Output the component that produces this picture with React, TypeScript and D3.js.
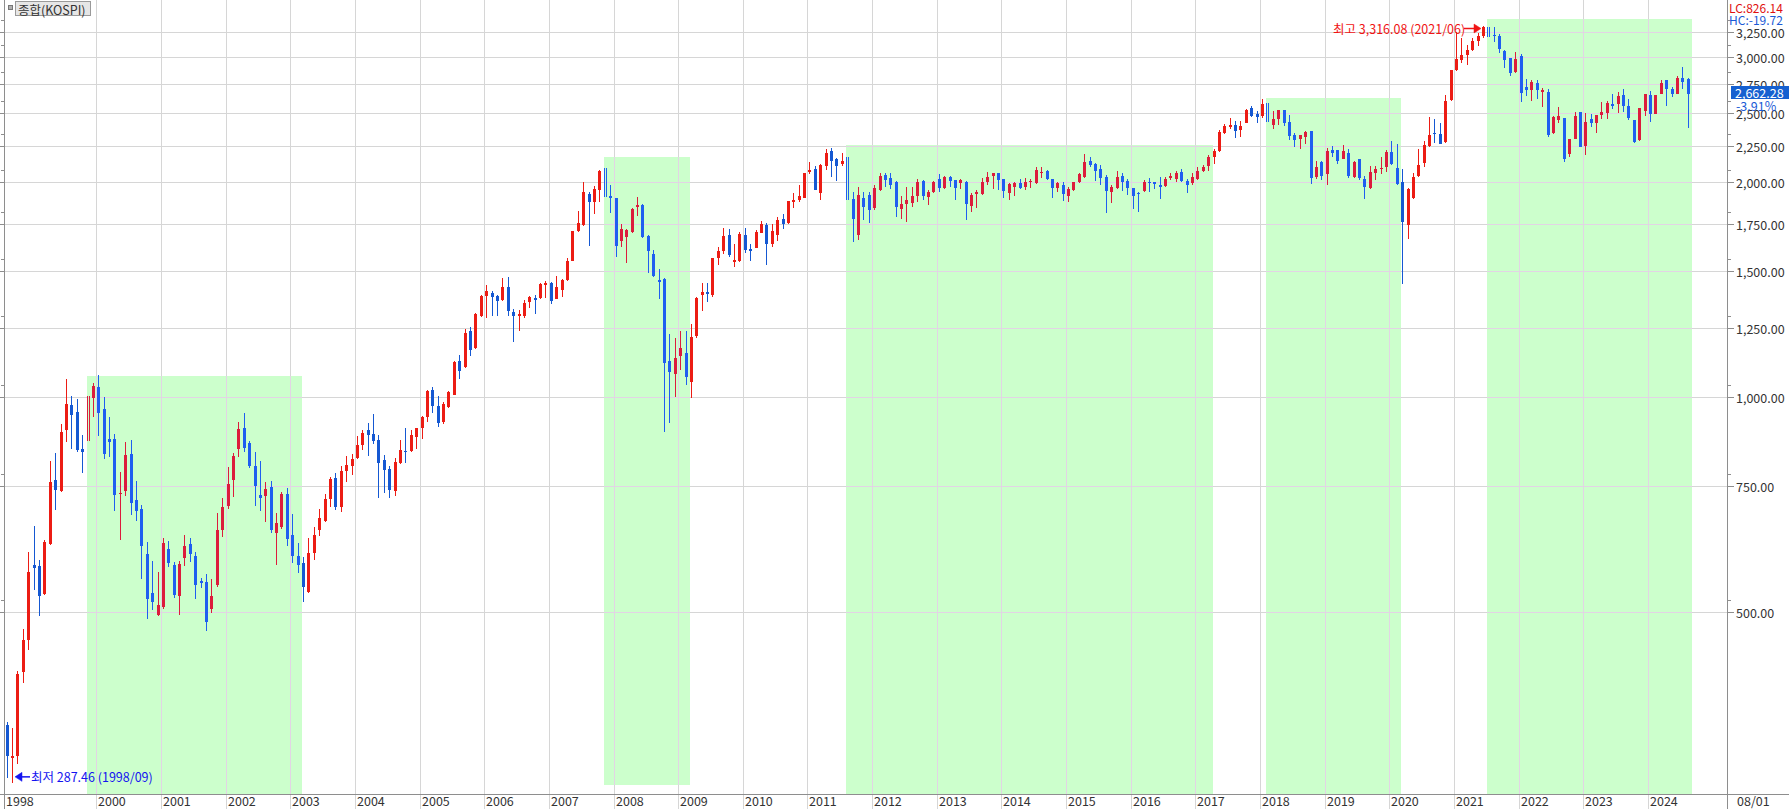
import React from 'react';
import * as d3 from 'd3';

// ---- data: monthly KOSPI candles, first candle = 1998/08, last = 2024/08 ----
const firstYear = 1998;
const firstMonth = 8;

const opens = [
  347, 312, 314, 411, 456,
  582, 579, 529, 622, 765, 738, 899, 974, 954, 845, 868, 998,
  1034, 961, 873, 873, 730, 738, 832, 717, 697, 603, 531, 495,
  508, 612, 582, 525, 594, 622, 598, 551, 550, 504, 545, 650,
  704, 764, 846, 906, 861, 800, 729, 727, 747, 644, 658, 731,
  641, 598, 585, 533, 605, 651, 670, 719, 769, 702, 788, 801,
  820, 855, 899, 888, 870, 816, 792, 738, 807, 841, 839, 880,
  904, 936, 1023, 971, 923, 969, 1007, 1123, 1100, 1238, 1170, 1298,
  1388, 1398, 1386, 1368, 1425, 1315, 1300, 1298, 1361, 1376, 1376, 1435,
  1444, 1372, 1413, 1459, 1554, 1712, 1742, 1925, 1880, 1951, 2073, 1914,
  1900, 1653, 1679, 1702, 1850, 1861, 1682, 1587, 1459, 1464, 1123, 1077,
  1140, 1154, 1051, 1218, 1390, 1402, 1390, 1567, 1601, 1688, 1547, 1551,
  1688, 1614, 1620, 1700, 1742, 1641, 1688, 1777, 1757, 1878, 1889, 1905,
  2068, 2088, 1935, 2111, 2213, 2155, 2124, 2150, 1895, 1688, 1900, 1920,
  1840, 1951, 2049, 2031, 2005, 1836, 1866, 1874, 1916, 2009, 1910, 1941,
  2022, 1967, 2038, 2016, 1994, 2005, 1854, 1926, 1924, 2000, 2044, 2065,
  2022, 1934, 1973, 1994, 1973, 2009, 1998, 2070, 2078, 2020, 1967, 1983,
  1916, 1951, 2000, 2038, 2142, 2124, 2090, 2038, 1941, 1967, 2044, 2009,
  1967, 1931, 1945, 2002, 2005, 1983, 1979, 2031, 2022, 2072, 2009, 1994,
  2020, 2078, 2109, 2169, 2216, 2344, 2395, 2408, 2369, 2426, 2546, 2495,
  2481, 2577, 2408, 2455, 2527, 2429, 2331, 2299, 2318, 2361, 2034, 2139,
  2055, 2222, 2222, 2158, 2202, 2034, 2158, 2022, 1962, 2063, 2089, 2104,
  2209, 2094, 2005, 1743, 1905, 2042, 2132, 2250, 2344, 2339, 2282, 2611,
  2876, 2971, 3019, 3068, 3159, 3210, 3300, 3218, 3206, 3061, 2993, 2860,
  3012, 2720, 2697, 2762, 2675, 2682, 2349, 2450, 2460, 2195, 2299, 2515,
  2252, 2455, 2421, 2488, 2502, 2576, 2577, 2651, 2560, 2447, 2294, 2519,
  2651, 2495, 2662, 2786, 2702, 2660, 2801, 2794,
];

const highs = [
  350, 343, 412, 472, 607,
  660, 590, 631, 814, 835, 916, 1060, 1003, 994, 885, 1003, 1045,
  1073, 1001, 938, 887, 784, 866, 870, 762, 706, 626, 588, 568,
  634, 627, 586, 588, 641, 634, 607, 558, 564, 556, 687, 722,
  797, 835, 923, 951, 867, 838, 813, 761, 762, 688, 735, 746,
  685, 624, 596, 635, 656, 696, 731, 772, 782, 800, 826, 831,
  882, 899, 920, 947, 885, 829, 800, 820, 870, 904, 899, 906,
  940, 1023, 1034, 1003, 983, 1019, 1122, 1145, 1245, 1255, 1310, 1390,
  1436, 1409, 1390, 1467, 1472, 1329, 1324, 1367, 1387, 1390, 1447, 1454,
  1452, 1478, 1464, 1566, 1712, 1825, 2004, 1938, 1980, 2085, 2096, 1982,
  1905, 1749, 1720, 1843, 1906, 1865, 1688, 1608, 1512, 1470, 1226, 1211,
  1239, 1239, 1267, 1383, 1446, 1443, 1567, 1626, 1729, 1720, 1640, 1705,
  1729, 1640, 1714, 1767, 1752, 1749, 1790, 1807, 1883, 1932, 1982, 2065,
  2134, 2110, 2120, 2231, 2237, 2166, 2200, 2173, 1942, 1973, 1941, 1941,
  1983, 2060, 2065, 2065, 2009, 1916, 1969, 1973, 2020, 2016, 1951, 2009,
  2053, 2042, 2042, 2016, 2020, 2009, 1931, 1951, 2031, 2072, 2065, 2065,
  2022, 1994, 2005, 2022, 2031, 2022, 2104, 2104, 2083, 2022, 2005, 2000,
  1973, 2005, 2060, 2189, 2169, 2132, 2116, 2049, 1983, 2076, 2065, 2022,
  1967, 1941, 2016, 2031, 2005, 2038, 2038, 2065, 2076, 2089, 2020, 2065,
  2104, 2116, 2188, 2228, 2370, 2414, 2460, 2440, 2440, 2535, 2561, 2517,
  2620, 2588, 2517, 2527, 2527, 2488, 2344, 2331, 2364, 2361, 2146, 2146,
  2232, 2250, 2222, 2258, 2228, 2146, 2158, 2042, 2109, 2109, 2173, 2222,
  2289, 2265, 2090, 1962, 2060, 2228, 2286, 2467, 2455, 2426, 2651, 2880,
  3249, 3191, 3114, 3188, 3245, 3316.08, 3305, 3300, 3236, 3068, 2993, 3052,
  3030, 2794, 2786, 2786, 2711, 2702, 2475, 2553, 2460, 2299, 2515, 2515,
  2500, 2495, 2488, 2597, 2604, 2662, 2675, 2702, 2617, 2447, 2541, 2662,
  2685, 2651, 2786, 2786, 2720, 2821, 2907, 2800,
];

const lows = [
  292, 287.46, 306, 397, 441,
  536, 493, 527, 620, 694, 735, 866, 845, 838, 783, 850, 938,
  882, 818, 823, 693, 629, 726, 683, 670, 556, 488, 503, 493,
  504, 577, 522, 495, 579, 587, 520, 540, 469, 497, 541, 637,
  696, 725, 823, 836, 795, 704, 693, 667, 644, 581, 653, 618,
  584, 567, 516, 530, 590, 638, 668, 700, 694, 690, 759, 777,
  818, 842, 826, 859, 722, 734, 722, 727, 806, 807, 836, 845,
  872, 923, 951, 909, 917, 966, 1005, 1060, 1097, 1143, 1167, 1296,
  1291, 1299, 1297, 1365, 1300, 1196, 1237, 1289, 1335, 1308, 1372, 1379,
  1350, 1371, 1380, 1456, 1552, 1706, 1735, 1631, 1807, 1880, 1772, 1813,
  1574, 1626, 1543, 1700, 1795, 1670, 1491, 1472, 1373, 892, 920, 1001,
  1091, 1040, 996, 1211, 1322, 1358, 1380, 1532, 1587, 1570, 1524, 1547,
  1594, 1553, 1617, 1696, 1533, 1626, 1655, 1721, 1750, 1843, 1878, 1900,
  2057, 1950, 1887, 2083, 2036, 2010, 2111, 1684, 1651, 1660, 1772, 1757,
  1830, 1947, 1970, 1958, 1790, 1776, 1760, 1850, 1880, 1890, 1860, 1931,
  1937, 1958, 1970, 1890, 1960, 1772, 1815, 1840, 1920, 1983, 1958, 1951,
  1900, 1890, 1914, 1960, 1950, 1967, 1990, 2031, 2016, 1900, 1941, 1886,
  1880, 1945, 1994, 2031, 2104, 2011, 1983, 1811, 1874, 1958, 1945, 1920,
  1836, 1820, 1941, 1941, 1958, 1895, 1973, 2016, 2000, 2000, 1934, 1983,
  2016, 2072, 2076, 2123, 2210, 2339, 2375, 2310, 2318, 2421, 2474, 2420,
  2461, 2310, 2375, 2408, 2400, 2294, 2245, 2226, 2265, 1988, 2022, 2016,
  1983, 2173, 2123, 2158, 2027, 2027, 2016, 1895, 1958, 2016, 2055, 2067,
  2118, 1983, 1439.43, 1666, 1895, 2034, 2104, 2241, 2275, 2265, 2275, 2600,
  2865, 2944, 2927, 3061, 3103, 3190, 3150, 3150, 3037, 2898, 2821, 2846,
  2592, 2645, 2603, 2619, 2553, 2314, 2340, 2420, 2139, 2171, 2299, 2242,
  2185, 2392, 2349, 2455, 2455, 2536, 2507, 2515, 2447, 2275, 2290, 2481,
  2429, 2495, 2662, 2560, 2640, 2660, 2708, 2387,
];

const closes = [
  314, 314, 409, 456, 569,
  576, 525, 626, 759, 740, 892, 977, 943, 842, 838, 981, 1036,
  951, 832, 866, 729, 733, 829, 711, 693, 618, 521, 515, 510,
  623, 585, 527, 583, 618, 602, 545, 549, 484, 526, 651, 702,
  755, 827, 902, 849, 801, 750, 722, 742, 651, 665, 731, 632,
  599, 581, 541, 605, 641, 676, 719, 767, 702, 788, 802, 818,
  856, 889, 885, 868, 809, 791, 740, 810, 843, 838, 885, 904,
  938, 1020, 972, 919, 978, 1015, 1120, 1089, 1228, 1163, 1307, 1386,
  1409, 1380, 1365, 1425, 1322, 1300, 1307, 1357, 1383, 1368, 1440, 1444,
  1365, 1425, 1459, 1551, 1710, 1753, 1938, 1880, 1959, 2073, 1906, 1905,
  1631, 1720, 1715, 1837, 1857, 1675, 1601, 1480, 1451, 1117, 1084, 1134,
  1170, 1068, 1215, 1379, 1405, 1397, 1567, 1603, 1682, 1582, 1559, 1693,
  1610, 1601, 1705, 1749, 1641, 1710, 1769, 1749, 1883, 1889, 1914, 2065,
  2079, 1950, 2117, 2200, 2146, 2107, 2146, 1887, 1777, 1919, 1850, 1830,
  1967, 2042, 2016, 1983, 1850, 1866, 1890, 1914, 2005, 1916, 1941, 2005,
  1967, 2038, 2011, 1967, 2016, 1866, 1920, 1937, 2000, 2038, 2060, 2016,
  1945, 1990, 1998, 1967, 2005, 2011, 2083, 2072, 2020, 1967, 1994, 1924,
  1958, 2000, 2053, 2139, 2116, 2078, 2031, 1945, 1973, 2038, 2000, 1967,
  1916, 1926, 2005, 1998, 1988, 1973, 2022, 2044, 2060, 2009, 1983, 2038,
  2076, 2104, 2169, 2216, 2357, 2402, 2408, 2364, 2400, 2527, 2479, 2474,
  2577, 2434, 2455, 2527, 2426, 2326, 2294, 2331, 2357, 2031, 2100, 2044,
  2216, 2200, 2144, 2216, 2042, 2139, 2027, 1973, 2072, 2089, 2094, 2209,
  2123, 1990, 1762, 1956, 2034, 2116, 2258, 2331, 2337, 2265, 2602, 2876,
  2976, 3019, 3068, 3159, 3210, 3300, 3202, 3206, 3075, 2971, 2846, 2981,
  2668, 2697, 2770, 2697, 2697, 2331, 2469, 2479, 2158, 2299, 2479, 2242,
  2429, 2421, 2488, 2515, 2588, 2560, 2647, 2560, 2460, 2282, 2541, 2662,
  2495, 2651, 2756, 2702, 2658, 2801, 2770, 2662.28,
];

// year labels on the time axis (1999 is not shown in the original)
const yearLabels = [1998, 2000, 2001, 2002, 2003, 2004, 2005, 2006, 2007, 2008, 2009, 2010, 2011,
  2012, 2013, 2014, 2015, 2016, 2017, 2018, 2019, 2020, 2021, 2022, 2023, 2024];
const lastDateLabel = '08/01';

// price axis ticks
const priceTicks = [500, 750, 1000, 1250, 1500, 1750, 2000, 2250, 2500, 2750, 3000, 3250];

// shaded boxes: candle index range [start, end) and price range
const boxStart = [15, 111, 156, 234, 275];
const boxEnd = [55, 127, 224, 259, 313];
const boxTop = [1070, 2168, 2258, 2627, 3387];
const boxBottom = [0, 285.5, 0, 0, 0]; // 0 = axis bottom

// annotations
const lowIndex = 1;
const lowValue = 287.46;
const lowText = '최저 287.46 (1998/09)';
const highIndex = 274;
const highText = '최고 3,316.08 (2021/06)';
const lastPrice = 2662.28;
const lastPriceText = '2,662.28';
const lastChangeText = '-3.91%';
const lcText = 'LC:826.14';
const hcText = 'HC:-19.72';
const legendText = '종합(KOSPI)';

const W = 1789;
const H = 809;
const LEFT = 4;
const RIGHT = 1727;
const BOTTOM = 794;
const FONT = "'Noto Sans CJK KR', 'Noto Sans', sans-serif";

const UP = '#ec1c14';
const DOWN = '#1558d2';
const UP_BOX = '#dc1c3c';
const DOWN_BOX = '#1f5ef0';
const GRID = '#d6d6d6';
const GRID_BOX = '#e2d4e4';
const AXIS = '#8e8e8e';

export default function App() {
  const n = closes.length;
  const x = d3.scaleLinear().domain([-0.5, 319.3]).range([LEFT, RIGHT]);
  const y = d3.scaleLog().domain([277.3, 3606]).range([BOTTOM, 0]);
  const cx = (i: number) => Math.round(x(i));
  const py = (v: number) => Math.round(y(v));

  const monthIndex = (year: number, month: number) => (year - firstYear) * 12 + (month - firstMonth);

  const yearGrid = yearLabels
    .filter((yr) => monthIndex(yr, 1) >= 0)
    .map((yr) => ({ yr, gx: cx(monthIndex(yr, 1)) - 2 }));

  const boxes = boxStart.map((s, k) => {
    const x0 = x(s) - 1;
    const x1 = x(boxEnd[k]) - 1;
    const top = y(boxTop[k]);
    const bot = boxBottom[k] > 0 ? y(boxBottom[k]) : BOTTOM;
    return { x0: Math.round(x0), x1: Math.round(x1), top: Math.round(top), bot: Math.round(bot) };
  });

  const inBox = (i: number) => boxStart.some((s, k) => i >= s && i < boxEnd[k]);
  const isBoxStart = (i: number) => boxStart.includes(i);

  const gridLines = (stroke: string) => (
    <g stroke={stroke} strokeWidth={1} shapeRendering="crispEdges">
      {priceTicks.map((v) => (
        <line key={'h' + v} x1={LEFT} x2={RIGHT} y1={py(v) + 0.5} y2={py(v) + 0.5} />
      ))}
      {yearGrid.map((g) => (
        <line key={'v' + g.yr} x1={g.gx + 0.5} x2={g.gx + 0.5} y1={0} y2={H} />
      ))}
    </g>
  );

  const candles = [];
  for (let i = 0; i < n; i++) {
    const o = opens[i];
    const c = closes[i];
    const up = c >= o;
    const box = inBox(i);
    const col = up ? (box ? UP_BOX : UP) : (box ? DOWN_BOX : DOWN);
    const xc = cx(i);
    const yh = py(highs[i]);
    const yl = py(lows[i]);
    const yo = py(o);
    const yc = py(c);
    const bTop = Math.min(yo, yc);
    const bH = Math.max(1, Math.abs(yo - yc));
    if (isBoxStart(i)) {
      const yb = py(Math.min(o, c));
      candles.push(
        <g key={i} fill={col}>
          <rect x={xc - 1} y={yh} width={1} height={Math.max(1, yb - yh)} />
          <rect x={xc + 1} y={yh} width={1} height={Math.max(1, yb - yh)} />
        </g>
      );
      continue;
    }
    candles.push(
      <g key={i} fill={col}>
        <rect x={xc} y={yh} width={1} height={Math.max(1, yl - yh)} />
        <rect x={xc - 1} y={bTop} width={3} height={bH} />
      </g>
    );
  }

  const lowY = y(lowValue) - 6;
  const lowX = cx(lowIndex) + 3;
  const highY = 28.5;
  const highX = cx(highIndex) - 2;
  const lastY = y(lastPrice) - 1.5;

  return (
    <svg
      width={W}
      height={H}
      style={{ position: 'absolute', left: 0, top: 0, background: '#fff' }}
      fontFamily={FONT}
    >
      <defs>
        <clipPath id="boxclip">
          {boxes.map((b, k) => (
            <rect key={k} x={b.x0} y={b.top} width={b.x1 - b.x0} height={b.bot - b.top} />
          ))}
        </clipPath>
      </defs>
      <rect x={0} y={0} width={W} height={H} fill="#fff" />

      {/* shaded periods */}
      <g fill="#ccffcc" shapeRendering="crispEdges">
        {boxes.map((b, k) => (
          <rect key={k} x={b.x0} y={b.top} width={b.x1 - b.x0} height={b.bot - b.top} />
        ))}
      </g>

      {/* grid */}
      {gridLines(GRID)}
      <g clipPath="url(#boxclip)">{gridLines(GRID_BOX)}</g>

      {/* candles */}
      <g shapeRendering="crispEdges">{candles}</g>

      {/* axes */}
      <g stroke={AXIS} strokeWidth={1} shapeRendering="crispEdges">
        <line x1={LEFT + 0.5} x2={LEFT + 0.5} y1={0} y2={H} />
        <line x1={RIGHT + 0.5} x2={RIGHT + 0.5} y1={0} y2={H} />
        <line x1={0} x2={W} y1={BOTTOM + 0.5} y2={BOTTOM + 0.5} />
        {priceTicks.map((v) => (
          <g key={v}>
            <line x1={0} x2={LEFT} y1={py(v) + 0.5} y2={py(v) + 0.5} />
            <line x1={1} x2={LEFT} y1={py(v) - 12 + 0.5} y2={py(v) - 12 + 0.5} />
            <line x1={RIGHT} x2={RIGHT + 7} y1={py(v) + 0.5} y2={py(v) + 0.5} />
            <line x1={RIGHT} x2={RIGHT + 4} y1={py(v) - 12 + 0.5} y2={py(v) - 12 + 0.5} />
          </g>
        ))}
      </g>

      {/* price labels */}
      <g fontSize={12.5} fill="#333">
        {priceTicks.map((v) => (
          <text key={v} x={RIGHT + 9} y={py(v)} dominantBaseline="central">
            {d3.format(',.2f')(v)}
          </text>
        ))}
      </g>

      {/* year labels */}
      <g fontSize={12.5} fill="#333">
        <text x={LEFT + 2} y={806}>{yearLabels[0]}</text>
        {yearGrid.map((g) => (
          <text key={g.yr} x={g.gx + 2} y={806}>{g.yr}</text>
        ))}
        <text x={RIGHT + 10} y={806}>{lastDateLabel}</text>
      </g>

      {/* top right info */}
      <text x={1729} y={7.5} fontSize={12} fill="#e01010" dominantBaseline="central">{lcText}</text>
      <text x={1729} y={19.5} fontSize={12} fill="#1a5ad6" dominantBaseline="central">{hcText}</text>

      {/* last price */}
      <rect x={1731} y={lastY - 6.5} width={58} height={13} fill="#1560d0" shapeRendering="crispEdges" />
      <text x={1735} y={lastY} fontSize={12.5} fill="#fff" dominantBaseline="central">{lastPriceText}</text>
      <text x={1736} y={lastY + 13} fontSize={12.5} fill="#1a5ad6" dominantBaseline="central">{lastChangeText}</text>

      {/* legend */}
      <rect x={8.5} y={5.5} width={4} height={4} fill="#b0b0b0" stroke="#777" strokeWidth={1} shapeRendering="crispEdges" />
      <rect x={15.5} y={1.5} width={75} height={14} fill="#e6e6e6" stroke="#9a9a9a" strokeWidth={1} shapeRendering="crispEdges" />
      <text x={18} y={9} fontSize={12.5} fill="#333" dominantBaseline="central">{legendText}</text>

      {/* low annotation */}
      <g fill="#1414f0" stroke="#1414f0">
        <path d={`M${lowX},${lowY} L${lowX + 7},${lowY - 4.5} L${lowX + 7},${lowY + 4.5} Z`} strokeWidth={0.5} />
        <line x1={lowX + 6} x2={lowX + 15} y1={lowY} y2={lowY} strokeWidth={1.5} />
      </g>
      <text x={lowX + 16} y={lowY} fontSize={12.5} fill="#1414f0" dominantBaseline="central">{lowText}</text>

      {/* high annotation */}
      <text x={highX - 148} y={highY} fontSize={12.5} fill="#f01414" dominantBaseline="central">{highText}</text>
      <g fill="#f01414" stroke="#f01414">
        <line x1={highX - 17} x2={highX - 6} y1={highY} y2={highY} strokeWidth={1.5} />
        <path d={`M${highX},${highY} L${highX - 7},${highY - 4.5} L${highX - 7},${highY + 4.5} Z`} strokeWidth={0.5} />
      </g>
    </svg>
  );
}
